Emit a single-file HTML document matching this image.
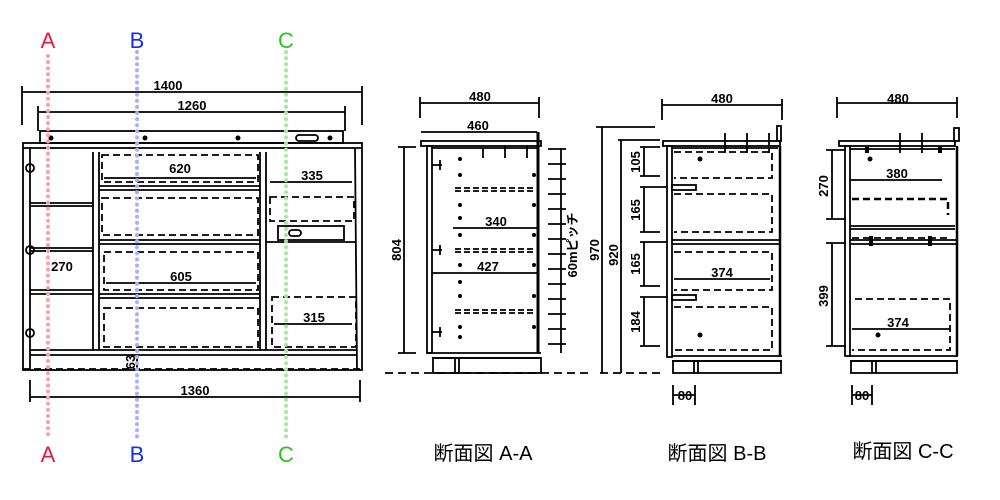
<!DOCTYPE html>
<html><head><meta charset="utf-8"><style>
html,body{margin:0;padding:0;background:#fff;}
svg{display:block}
text{font-family:"Liberation Sans",sans-serif;font-weight:bold;font-size:13px;fill:#000}
.cap{font-family:"Liberation Sans","Noto Sans CJK JP",sans-serif;font-weight:normal;font-size:20px}
.g{font-weight:normal;font-size:22px}
</style></head><body>
<svg width="1000" height="500" viewBox="0 0 1000 500" xmlns="http://www.w3.org/2000/svg">
<g fill="none" stroke="#000" stroke-width="1.8">
<line x1="22" y1="92" x2="362" y2="92"/><line x1="22" y1="86" x2="22" y2="125"/><line x1="362" y1="86" x2="362" y2="125"/>
<line x1="38" y1="112" x2="345" y2="112"/><line x1="38" y1="106" x2="38" y2="131"/><line x1="345" y1="106" x2="345" y2="131"/>
<line x1="30" y1="397" x2="360" y2="397"/><line x1="30" y1="380" x2="30" y2="402"/><line x1="360" y1="380" x2="360" y2="402"/>
<rect x="40" y="131" width="303" height="12"/>
<rect x="23" y="143" width="339" height="227"/>
<line x1="23" y1="148" x2="362" y2="148"/>
<line x1="30" y1="148" x2="30" y2="370"/><line x1="355" y1="148" x2="357" y2="370"/>
<line x1="93" y1="152" x2="93" y2="350"/><line x1="99" y1="152" x2="99" y2="350"/>
<line x1="260" y1="152" x2="260" y2="350"/><line x1="266" y1="152" x2="266" y2="350"/>
<line x1="30" y1="350" x2="357" y2="350"/><line x1="30" y1="355" x2="357" y2="355"/>
<line x1="30" y1="203" x2="93" y2="203"/><line x1="30" y1="206" x2="93" y2="206"/>
<line x1="30" y1="248" x2="93" y2="248"/><line x1="30" y1="251" x2="93" y2="251"/>
<line x1="30" y1="290" x2="93" y2="290"/><line x1="30" y1="294" x2="93" y2="294"/>
<circle cx="30" cy="168" r="4"/><circle cx="30" cy="250" r="4"/><circle cx="30" cy="333" r="4"/>
<line x1="99" y1="186" x2="260" y2="186"/><line x1="99" y1="190" x2="260" y2="190"/>
<line x1="99" y1="240" x2="260" y2="240"/><line x1="99" y1="244" x2="260" y2="244"/>
<line x1="99" y1="294" x2="260" y2="294"/><line x1="99" y1="298" x2="260" y2="298"/>
<g stroke-dasharray="7,4">
<path d="M102 155 H258 V182 H102 Z"/>
<rect x="102" y="198" width="156" height="37"/>
<rect x="104" y="252" width="154" height="38"/>
<rect x="104" y="308" width="154" height="39"/>
<rect x="270" y="197" width="84" height="24"/>
<rect x="272" y="297" width="84" height="50"/>
<line x1="23" y1="369" x2="362" y2="369"/>
</g>
<line x1="104" y1="178" x2="256" y2="178"/>
<line x1="106" y1="283" x2="256" y2="283"/>
<line x1="270" y1="182" x2="352" y2="182"/>
<line x1="274" y1="324" x2="352" y2="324"/>
<rect x="278" y="226" width="66" height="14"/><rect x="289" y="230" width="12" height="6" rx="3"/>
<line x1="266" y1="242" x2="355" y2="242"/>
<rect x="296" y="135" width="22" height="6" rx="3"/>
<line x1="137" y1="355" x2="137" y2="370"/>
</g>
<g fill="#000">
<circle cx="51" cy="138" r="2.5"/><circle cx="145" cy="138" r="2.5"/><circle cx="238" cy="138" r="2.5"/><circle cx="330" cy="138" r="2.5"/>
</g>
<text x="168" y="90" text-anchor="middle">1400</text>
<text x="192" y="110" text-anchor="middle">1260</text>
<text x="180" y="173" text-anchor="middle">620</text>
<text x="312" y="180" text-anchor="middle">335</text>
<text x="62" y="271" text-anchor="middle">270</text>
<text x="181" y="281" text-anchor="middle">605</text>
<text x="314" y="322" text-anchor="middle">315</text>
<text x="195" y="395" text-anchor="middle">1360</text>
<text transform="translate(135,362) rotate(-90)" text-anchor="middle" font-size="12">63</text>

<g stroke-width="4" stroke-linecap="round" stroke-dasharray="0.1,6">
<line x1="48" y1="56" x2="48" y2="438" stroke="#f7a3ad"/>
<line x1="137" y1="52" x2="137" y2="438" stroke="#a9b1f6"/>
<line x1="286" y1="52" x2="286" y2="438" stroke="#a9e8a2"/>
</g>
<text class="g" x="48" y="48" text-anchor="middle" style="fill:#e8193c">A</text>
<text class="g" x="137" y="48" text-anchor="middle" style="fill:#1a2ee8">B</text>
<text class="g" x="286" y="48" text-anchor="middle" style="fill:#2ec41e">C</text>
<text class="g" x="48" y="462" text-anchor="middle" style="fill:#e8193c">A</text>
<text class="g" x="137" y="462" text-anchor="middle" style="fill:#1a2ee8">B</text>
<text class="g" x="286" y="462" text-anchor="middle" style="fill:#2ec41e">C</text>

<g fill="none" stroke="#000" stroke-width="1.8">
<line x1="420" y1="103" x2="539" y2="103"/><line x1="420" y1="97" x2="420" y2="118"/><line x1="539" y1="97" x2="539" y2="118"/>
<line x1="421" y1="132" x2="537" y2="132"/>
<rect x="421" y="141" width="120" height="5"/>
<rect x="427" y="146" width="5" height="207"/>
<line x1="432" y1="148" x2="538" y2="148"/>
<line x1="538" y1="132" x2="538" y2="353" stroke-width="3"/>
<line x1="427" y1="353" x2="541" y2="353"/><line x1="432" y1="358" x2="541" y2="358"/>
<rect x="433" y="358" width="108" height="15"/><line x1="455" y1="358" x2="455" y2="373"/><line x1="459" y1="358" x2="459" y2="373"/>
<line x1="385" y1="373" x2="590" y2="373" stroke-dasharray="8,5"/>
<line x1="404" y1="147" x2="404" y2="353"/><line x1="398" y1="147" x2="416" y2="147"/><line x1="398" y1="353" x2="416" y2="353"/>
<line x1="561" y1="149" x2="561" y2="353"/>
<g stroke-dasharray="6,3"><line x1="455" y1="188" x2="536" y2="188"/><line x1="455" y1="191" x2="536" y2="191"/>
<line x1="455" y1="249" x2="536" y2="249"/><line x1="455" y1="252" x2="536" y2="252"/>
<line x1="455" y1="310" x2="536" y2="310"/><line x1="455" y1="313" x2="536" y2="313"/></g>
<line x1="453" y1="228" x2="537" y2="228"/>
<line x1="432" y1="273" x2="537" y2="273"/>
<line x1="483" y1="148" x2="483" y2="158"/><line x1="505" y1="146" x2="505" y2="158"/><line x1="527" y1="146" x2="527" y2="158"/>
</g>
<g stroke="#000" stroke-width="1.8">
<line x1="548" y1="149" x2="566" y2="149"/><line x1="548" y1="164" x2="566" y2="164"/><line x1="548" y1="179" x2="566" y2="179"/><line x1="548" y1="194" x2="566" y2="194"/><line x1="548" y1="209" x2="566" y2="209"/><line x1="548" y1="224" x2="566" y2="224"/><line x1="548" y1="239" x2="566" y2="239"/><line x1="548" y1="254" x2="566" y2="254"/><line x1="548" y1="269" x2="566" y2="269"/><line x1="548" y1="284" x2="566" y2="284"/><line x1="548" y1="299" x2="566" y2="299"/><line x1="548" y1="314" x2="566" y2="314"/><line x1="548" y1="329" x2="566" y2="329"/><line x1="548" y1="344" x2="566" y2="344"/>
</g>
<g fill="#000">
<circle cx="460" cy="159" r="2"/><circle cx="460" cy="175" r="2"/><circle cx="460" cy="205" r="2"/><circle cx="460" cy="218" r="2"/><circle cx="460" cy="235" r="2"/><circle cx="460" cy="265" r="2"/><circle cx="460" cy="282" r="2"/><circle cx="460" cy="296" r="2"/><circle cx="460" cy="327" r="2"/><circle cx="460" cy="337" r="2"/>
<circle cx="534" cy="175" r="2"/><circle cx="534" cy="205" r="2"/><circle cx="534" cy="235" r="2"/><circle cx="534" cy="265" r="2"/><circle cx="534" cy="296" r="2"/><circle cx="534" cy="327" r="2"/>
</g>
<g fill="none" stroke="#000" stroke-width="1.8">
<path d="M432 165 h10 M440 160 v10"/><path d="M432 250 h10 M440 245 v10"/><path d="M432 332 h10 M440 327 v10"/>
</g>
<text x="480" y="101" text-anchor="middle">480</text>
<text x="478" y="130" text-anchor="middle">460</text>
<text x="496" y="226" text-anchor="middle">340</text>
<text x="488" y="271" text-anchor="middle">427</text>
<text transform="translate(401,250) rotate(-90)" text-anchor="middle">804</text>
<text transform="translate(577,245) rotate(-90)" text-anchor="middle" font-size="12" style="font-family:'Liberation Sans','Noto Sans CJK JP',sans-serif">60mピッチ</text>

<g fill="none" stroke="#000" stroke-width="1.8">
<line x1="662" y1="105" x2="782" y2="105"/><line x1="662" y1="99" x2="662" y2="120"/><line x1="782" y1="99" x2="782" y2="120"/>
<rect x="663" y="141" width="117" height="5"/>
<rect x="777" y="126" width="4" height="15"/>
<rect x="667" y="146" width="5" height="211"/>
<line x1="780" y1="146" x2="780" y2="356" stroke-width="2.5"/>
<line x1="672" y1="148" x2="778" y2="148"/>
<line x1="672" y1="240" x2="780" y2="240"/><line x1="672" y1="244" x2="780" y2="244"/>
<line x1="672" y1="356" x2="782" y2="356"/><line x1="672" y1="361" x2="782" y2="361"/>
<rect x="673" y="361" width="108" height="12"/><line x1="694" y1="361" x2="694" y2="373"/><line x1="698" y1="361" x2="698" y2="373"/>
<line x1="600" y1="373" x2="660" y2="373" stroke-dasharray="8,5"/>
<line x1="596" y1="127" x2="655" y2="127"/><line x1="602" y1="127" x2="602" y2="373"/>
<line x1="618" y1="140" x2="660" y2="140"/><line x1="621" y1="140" x2="621" y2="373"/>
<line x1="644" y1="147" x2="644" y2="176"/><line x1="640" y1="147" x2="660" y2="147"/><line x1="640" y1="176" x2="660" y2="176"/>
<line x1="644" y1="187" x2="644" y2="232"/><line x1="640" y1="187" x2="668" y2="187"/><line x1="640" y1="232" x2="660" y2="232"/>
<line x1="644" y1="242" x2="644" y2="286"/><line x1="640" y1="242" x2="668" y2="242"/><line x1="640" y1="286" x2="660" y2="286"/>
<line x1="644" y1="297" x2="644" y2="346"/><line x1="640" y1="297" x2="668" y2="297"/><line x1="640" y1="346" x2="660" y2="346"/>
<g stroke-dasharray="7,4">
<path d="M674 152 H772 V178 H674"/><path d="M674 194 H772 V232 H674"/>
<path d="M674 252 H772 V290 H674"/><path d="M674 307 H772 V350 H674"/>
</g>
<line x1="674" y1="279" x2="770" y2="279"/>
<rect x="672" y="185" width="24" height="5"/><rect x="672" y="295" width="24" height="5"/>
<line x1="725" y1="133" x2="725" y2="153"/><line x1="747" y1="133" x2="747" y2="153"/><line x1="769" y1="133" x2="769" y2="153"/>
<line x1="673" y1="395" x2="695" y2="395"/><line x1="673" y1="385" x2="673" y2="405"/><line x1="695" y1="385" x2="695" y2="405"/>
</g>
<g fill="#000"><circle cx="700" cy="159" r="2.5"/><circle cx="700" cy="335" r="2.5"/></g>
<text x="722" y="103" text-anchor="middle">480</text>
<text x="722" y="277" text-anchor="middle">374</text>
<text x="685" y="400" text-anchor="middle">80</text>
<text transform="translate(599,250) rotate(-90)" text-anchor="middle">970</text>
<text transform="translate(618,255) rotate(-90)" text-anchor="middle">920</text>
<text transform="translate(640,162) rotate(-90)" text-anchor="middle">105</text>
<text transform="translate(640,210) rotate(-90)" text-anchor="middle">165</text>
<text transform="translate(640,264) rotate(-90)" text-anchor="middle">165</text>
<text transform="translate(640,322) rotate(-90)" text-anchor="middle">184</text>

<g fill="none" stroke="#000" stroke-width="1.8">
<line x1="837" y1="103" x2="957" y2="103"/><line x1="837" y1="97" x2="837" y2="118"/><line x1="957" y1="97" x2="957" y2="118"/>
<rect x="839" y="141" width="116" height="5"/>
<rect x="954" y="128" width="5" height="13"/>
<rect x="845" y="146" width="5" height="210"/>
<line x1="957" y1="146" x2="957" y2="356" stroke-width="2.5"/>
<line x1="850" y1="149" x2="955" y2="149"/>
<line x1="850" y1="226" x2="955" y2="226"/><line x1="850" y1="229" x2="955" y2="229"/>
<line x1="850" y1="240" x2="957" y2="240"/><line x1="850" y1="244" x2="957" y2="244"/>
<line x1="850" y1="356" x2="958" y2="356"/><line x1="850" y1="361" x2="958" y2="361"/>
<rect x="851" y="361" width="106" height="12"/><line x1="872" y1="361" x2="872" y2="373"/><line x1="876" y1="361" x2="876" y2="373"/>
<line x1="832" y1="150" x2="832" y2="219"/><line x1="826" y1="150" x2="846" y2="150"/><line x1="826" y1="219" x2="846" y2="219"/>
<line x1="832" y1="243" x2="832" y2="346"/><line x1="826" y1="243" x2="846" y2="243"/><line x1="826" y1="346" x2="846" y2="346"/>
<line x1="850" y1="180" x2="942" y2="180"/>
<line x1="852" y1="329" x2="950" y2="329"/>
<path d="M852 199 H948 V215" stroke-dasharray="7,4" stroke-width="2.5"/>
<path d="M852 238 H950" stroke-dasharray="7,4"/>
<path d="M855 299 H950 V350 H852" stroke-dasharray="7,4"/>
<line x1="900" y1="133" x2="900" y2="153"/><line x1="922" y1="133" x2="922" y2="153"/>
<line x1="852" y1="395" x2="872" y2="395"/><line x1="852" y1="385" x2="852" y2="405"/><line x1="872" y1="385" x2="872" y2="405"/>
</g>
<g fill="#000"><circle cx="870" cy="159" r="2.5"/><circle cx="878" cy="335" r="2.5"/>
<rect x="865" y="147" width="4" height="6"/><rect x="938" y="147" width="4" height="6"/>
<rect x="869" y="236" width="4" height="10"/><rect x="928" y="236" width="4" height="10"/></g>
<text x="898" y="103" text-anchor="middle">480</text>
<text x="897" y="178" text-anchor="middle">380</text>
<text x="898" y="327" text-anchor="middle">374</text>
<text x="862" y="400" text-anchor="middle">80</text>
<text transform="translate(828,186) rotate(-90)" text-anchor="middle">270</text>
<text transform="translate(828,296) rotate(-90)" text-anchor="middle">399</text>

<text class="cap" x="483" y="460" text-anchor="middle">断面図 A-A</text>
<text class="cap" x="717" y="460" text-anchor="middle">断面図 B-B</text>
<text class="cap" x="903" y="458" text-anchor="middle">断面図 C-C</text>
</svg>
</body></html>
